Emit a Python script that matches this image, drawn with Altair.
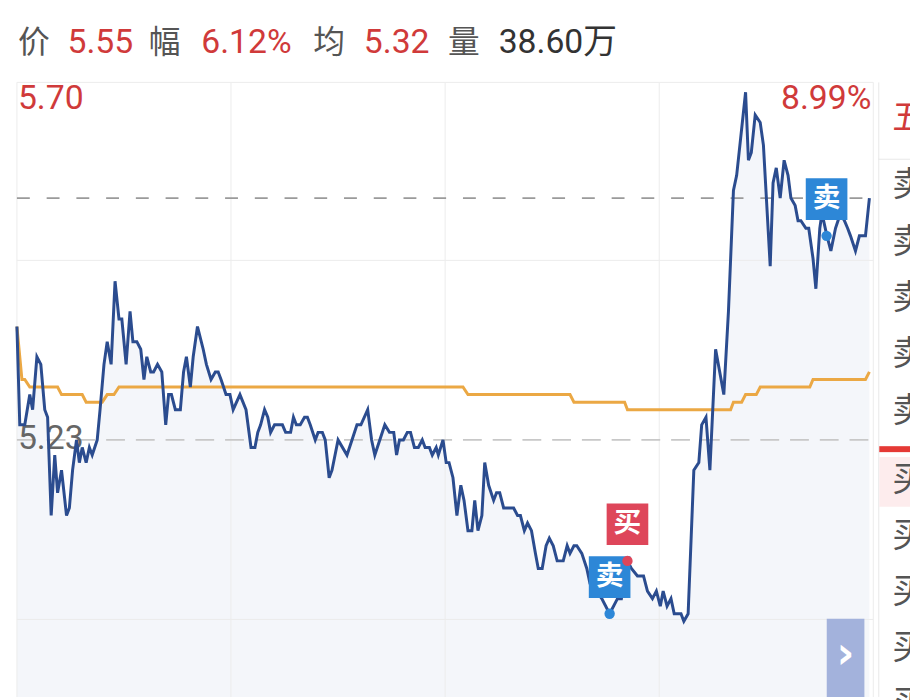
import altair as alt
import pandas as pd

# ---------------- data ----------------
prev_close = 5.23
last_price = 5.55
high_label = "5.70"
high_pct = "8.99%"
prev_label = "5.23"

# intraday price vertices: minute since open, price
minutes = [0.0, 0.8, 2.2, 3.6, 4.4, 5.6, 6.7, 7.8, 8.6,
           9.6, 10.6, 11.4, 12.5, 13.9, 14.7, 15.6, 16.7, 17.5, 18.3, 19.4, 20.3, 21.1, 22.5,
           23.3, 24.4, 25.3, 26.4, 27.5, 28.6, 29.4, 30.6, 31.7, 32.5, 33.6, 34.7, 35.6, 36.4, 37.5, 38.3, 39.4, 40.6,
           41.7, 42.5, 43.3, 44.4, 45.8, 46.7, 47.5, 48.6, 49.4, 50.6, 52.2, 53.1, 54.4, 55.6, 56.4, 57.2, 58.6, 59.7, 60.6, 62.5, 64.2,
           65.6, 66.7, 67.5, 68.3, 69.4, 70.3, 71.1, 72.2, 74.4, 75.3, 76.7, 77.5, 78.3, 79.4, 80.6, 81.4, 82.2,
           83.6, 84.4, 85.6, 86.4, 87.5, 88.3, 90.0, 92.5, 93.9, 95.3, 96.4, 98.3, 99.4, 100.3, 103.1, 104.4, 105.6, 106.4, 107.2, 108.3, 109.4, 110.3, 111.4, 112.5, 113.6, 114.4, 115.6, 116.4, 117.5, 118.1, 119.4,
           120.3, 121.1, 122.2, 123.3, 124.4, 125.3, 126.4, 127.5, 128.3, 129.2, 130.3, 131.1, 132.2, 133.6, 134.4, 135.3, 136.4, 139.2, 140.3, 141.1, 142.2, 143.1, 144.2, 145.3, 146.1, 147.2, 148.3, 149.2, 150.3, 151.4, 153.1, 154.2, 155.0, 156.1, 156.9, 158.3, 159.7, 160.6, 163.9, 166.1, 168.3, 169.4,
           171.1, 172.2, 173.9, 175.6, 176.7, 178.1, 179.2, 180.3, 181.1, 182.2, 183.3, 184.2, 185.0, 186.1, 186.9, 188.1,
           189.7, 191.1, 191.9, 193.1, 194.2, 195.8, 198.1, 199.4, 200.8, 201.7, 204.2, 205.0, 205.8, 206.9, 208.3, 209.2, 211.1, 211.9, 212.8, 213.9, 215.0, 216.1, 216.9, 218.1, 218.9, 219.7, 221.1, 221.9, 223.1, 223.9, 225.0, 225.6, 227.0, 228.1, 229.4, 230.8, 231.9, 232.8, 233.6, 235.0, 236.1, 237.8, 238.9]
prices = [5.38, 5.25, 5.25, 5.29, 5.27, 5.34, 5.33, 5.27, 5.26,
          5.13, 5.21, 5.16, 5.19, 5.13, 5.14, 5.19, 5.23, 5.20, 5.22, 5.20, 5.22, 5.21, 5.23,
          5.27, 5.33, 5.36, 5.33, 5.44, 5.39, 5.39, 5.33, 5.40, 5.36, 5.36, 5.35, 5.31, 5.34, 5.32, 5.32, 5.33, 5.32,
          5.25, 5.29, 5.29, 5.27, 5.27, 5.32, 5.34, 5.30, 5.34, 5.38, 5.35, 5.33, 5.31, 5.32, 5.32, 5.31, 5.29, 5.29, 5.27, 5.29, 5.27,
          5.22, 5.22, 5.24, 5.25, 5.27, 5.26, 5.24, 5.25, 5.25, 5.24, 5.24, 5.26, 5.25, 5.25, 5.26, 5.26, 5.25,
          5.23, 5.24, 5.24, 5.23, 5.18, 5.19, 5.23, 5.21, 5.23, 5.25, 5.25, 5.27, 5.23, 5.21, 5.25, 5.24, 5.24, 5.21, 5.23, 5.23, 5.24, 5.24, 5.22, 5.22, 5.23, 5.22, 5.22, 5.21, 5.22, 5.21, 5.23,
          5.20, 5.20, 5.18, 5.13, 5.17, 5.15, 5.11, 5.11, 5.15, 5.11, 5.13, 5.20, 5.17, 5.15, 5.16, 5.16, 5.14, 5.14, 5.13, 5.13, 5.11, 5.12, 5.11, 5.08, 5.06, 5.06, 5.09, 5.10, 5.09, 5.07, 5.07, 5.09, 5.08, 5.09, 5.09, 5.08, 5.06, 5.04, 5.02, 5.00, 5.02, 5.02,
          5.07, 5.06, 5.05, 5.05, 5.03, 5.02, 5.03, 5.01, 5.03, 5.01, 5.02, 5.00, 5.00, 5.00, 4.99, 5.00,
          5.19, 5.20, 5.25, 5.26, 5.19, 5.35, 5.29, 5.40, 5.56, 5.58, 5.69, 5.60, 5.61, 5.66, 5.65, 5.62, 5.46, 5.57, 5.59, 5.55, 5.60, 5.58, 5.55, 5.54, 5.52, 5.52, 5.51, 5.51, 5.47, 5.43, 5.51, 5.53, 5.50, 5.48, 5.51, 5.53, 5.52, 5.51, 5.50, 5.48, 5.50, 5.50, 5.55]
assert len(minutes) == len(prices)

# average price line (step changes)
avg_minutes = [0, 1.4, 2.2, 3.6, 11.4, 12.5, 18.3, 19.4, 23.9, 25.3, 27.2, 28.6, 125.0, 126.4,
               155.0, 156.1, 170.3, 171.1, 200.0, 200.8, 203.1, 204.2, 207.2, 208.3, 222.2, 223.1, 237.8, 238.9]
avg_prices = [5.38, 5.31, 5.31, 5.30, 5.30, 5.29, 5.29, 5.28, 5.28, 5.29, 5.29, 5.30, 5.30, 5.29,
              5.29, 5.28, 5.28, 5.27, 5.27, 5.28, 5.28, 5.29, 5.29, 5.30, 5.30, 5.31, 5.31, 5.32]

# buy / sell signals
sig_text = ["卖", "买", "卖"]
sig_minute = [166.1, 171.1, 226.9]
sig_price = [5.00, 5.07, 5.50]
sig_kind = ["sell", "buy", "sell"]

# header
header_keys = ["价", "幅", "均", "量"]
header_vals = ["5.55", "6.12%", "5.32", "38.60万"]

# order-book column (cut off at the right edge)
book_sell = ["卖", "卖", "卖", "卖", "卖"]
book_buy = ["买", "买", "买", "买", "买"]

grid_minutes = [0, 60, 120, 180, 240]
grid_prices = [5.4675, 4.9925]
y_top, y_bot = 5.703, 4.757

# ---------------- styling / layout ----------------
W, H = 910, 692
BLUE = "#2b4c8f"
ORANGE = "#eba844"
RED = "#d03a3a"
GRAY = "#555555"
CJK = "Noto Sans CJK SC"
NUM = "Roboto"

xs = alt.Scale(domain=[0, 240], range=[9, 873], nice=False, zero=False)
ys = alt.Scale(domain=[y_bot, y_top], range=[793.4, 72], nice=False, zero=False)

price_df = pd.DataFrame({"minute": minutes, "price": prices})
price_df["base"] = y_bot
avg_df = pd.DataFrame({"minute": avg_minutes, "price": avg_prices})
sig_df = pd.DataFrame({"minute": sig_minute, "price": sig_price, "t": sig_text, "kind": sig_kind})
one = pd.DataFrame({"a": [0]})

X = alt.X("minute:Q", scale=xs, axis=None)
Y = alt.Y("price:Q", scale=ys, axis=None)

layers = []

# fill below the price line
layers.append(alt.Chart(price_df).mark_area(color="#f4f6fa", clip=True).encode(
    x=X, y=Y, y2="base:Q"))

# grid
vgrid = pd.DataFrame({"minute": grid_minutes, "price": [y_top] * len(grid_minutes),
                      "base": [y_bot] * len(grid_minutes)})
layers.append(alt.Chart(vgrid).mark_rule(color="#ececec", strokeWidth=1, clip=True).encode(
    x=X, y=Y, y2="base:Q"))


def hline(vals, color, width, dash=None):
    df = pd.DataFrame({"price": vals, "minute": [0] * len(vals), "end": [240] * len(vals)})
    kw = dict(color=color, strokeWidth=width)
    if dash:
        kw["strokeDash"] = dash
    return alt.Chart(df).mark_rule(**kw).encode(y=Y, x=X, x2="end:Q")


layers.append(hline(grid_prices + [y_top], "#ececec", 1))
layers.append(hline([prev_close], "#c8c8c8", 1.8, [19, 11]))
layers.append(hline([last_price], "#9a9a9a", 1.8, [13, 17]))


def label(text, x, y, color, size, font, align="left", weight="normal"):
    return alt.Chart(one).mark_text(
        text=text, align=align, baseline="middle", fontSize=size,
        font=font, color=color, fontWeight=weight).encode(
        x=alt.value(x), y=alt.value(y))


# prev-close label sits under the lines
layers.append(label(prev_label, 10, 432, "#666666", 34, NUM))

# average and price lines
layers.append(alt.Chart(avg_df).mark_line(color=ORANGE, strokeWidth=3).encode(x=X, y=Y))
layers.append(alt.Chart(price_df).mark_line(color=BLUE, strokeWidth=3).encode(x=X, y=Y))

# signals
sig_color = alt.Color("kind:N", scale=alt.Scale(domain=["sell", "buy"], range=["#2d87d7", "#de465a"]), legend=None)
layers.append(alt.Chart(sig_df).mark_square(size=1764, opacity=1, yOffset=-37).encode(
    x=X, y=Y, color=sig_color))
layers.append(alt.Chart(sig_df).mark_text(color="white", fontSize=28, font=CJK, fontWeight="bold",
                                          baseline="middle", yOffset=-37).encode(x=X, y=Y, text="t:N"))
layers.append(alt.Chart(sig_df).mark_circle(size=110, opacity=1).encode(x=X, y=Y, color=sig_color))

# top labels
layers.append(label(high_label, 10, 89, RED, 34, NUM))
layers.append(label(high_pct, 871, 89, RED, 34, NUM, align="right"))

# header
key_x = [10, 142, 308, 444]
val_x = [60, 195, 359, 495]
val_col = [RED, RED, RED, "#333333"]
for k, kx in zip(header_keys, key_x):
    layers.append(label(k, kx, 32, GRAY, 32, CJK))
for v, vx, c in zip(header_vals, val_x, val_col):
    layers.append(label(v, vx, 32, c, 34, NUM + ", " + CJK))

# order-book column at right edge
layers.append(alt.Chart(one).mark_rule(color="#e8e8e8", strokeWidth=1).encode(
    x=alt.value(878.5), y=alt.value(72), y2=alt.value(H)))
layers.append(alt.Chart(one).mark_rule(color="#e8e8e8", strokeWidth=1).encode(
    x=alt.value(878), x2=alt.value(W), y=alt.value(149.5)))
layers.append(label("五", 892, 109, RED, 34, CJK))
for i, t in enumerate(book_sell):
    layers.append(label(t, 892, 177 + 56.8 * i, GRAY, 34, CJK))
layers.append(alt.Chart(one).mark_rect(color="#e53935").encode(
    x=alt.value(879), x2=alt.value(W), y=alt.value(439), y2=alt.value(445)))
layers.append(alt.Chart(one).mark_rect(color="#fdeced").encode(
    x=alt.value(879), x2=alt.value(W), y=alt.value(450), y2=alt.value(500)))
for i, t in enumerate(book_buy):
    layers.append(label(t, 892, 474 + 56.5 * i, GRAY, 34, CJK))

# scroll button
layers.append(alt.Chart(one).mark_rect(color="#a3b2dc").encode(
    x=alt.value(826), x2=alt.value(864), y=alt.value(613), y2=alt.value(H)))
layers.append(label("›", 845, 650, "white", 44, "DejaVu Sans", align="center", weight="bold"))

chart = alt.layer(*layers).properties(
    width=W, height=H, padding=0, background="white",
    autosize=alt.AutoSizeParams(type="none"),
).configure_view(strokeWidth=0)

chart.save("out.html", embed_options={"renderer": "svg", "actions": False})
